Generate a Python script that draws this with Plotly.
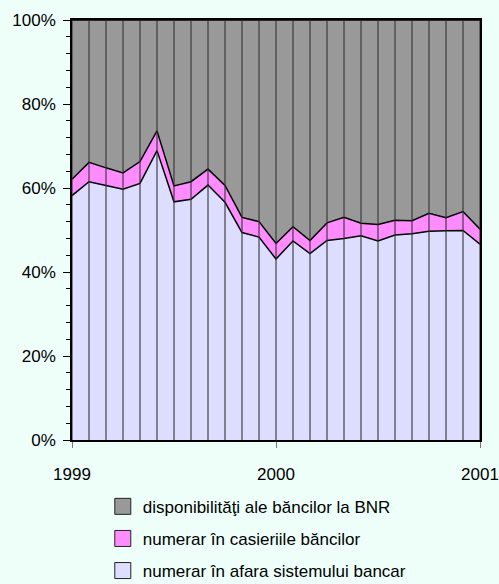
import plotly.graph_objects as go

months = list(range(25))  # Jan 1999 .. Jan 2001
tick_vals = [0, 12, 24]
tick_text = ["1999", "2000", "2001"]

names = ["disponibilităţi ale băncilor la BNR",
         "numerar în casieriile băncilor",
         "numerar în afara sistemului bancar"]

outside = [58.2, 61.5, 60.6, 59.7, 61.1, 68.9, 56.7, 57.3, 60.7, 56.6, 49.4, 48.3,
           43.1, 47.4, 44.4, 47.5, 48.0, 48.6, 47.4, 48.8, 49.1, 49.7, 49.8, 49.9, 46.6]
vaults = [3.9, 4.6, 4.2, 3.9, 5.2, 4.7, 3.8, 4.2, 3.8, 4.0, 3.6, 3.7,
          3.7, 3.4, 3.1, 4.2, 5.0, 3.0, 3.9, 3.5, 3.1, 4.3, 3.1, 4.5, 3.6]
bnr = [round(100 - a - b, 1) for a, b in zip(outside, vaults)]

colors = ["#999999", "#FF8CFF", "#DDDDFF"]
bg = "#EEFFFA"

fig = go.Figure()
series = [(outside, colors[2]), (vaults, colors[1]), (bnr, colors[0])]
for vals, col in series:
    fig.add_trace(go.Scatter(x=months, y=vals, mode="lines", stackgroup="s",
                             line=dict(color="black", width=1.5), fillcolor=col,
                             showlegend=False, hoverinfo="skip"))

# vertical drop lines at each monthly observation
vx, vy = [], []
for m in months:
    vx += [m, m, None]
    vy += [0, 100, None]
fig.add_trace(go.Scatter(x=vx, y=vy, mode="lines", line=dict(color="#333333", width=1.1),
                         showlegend=False, hoverinfo="skip"))

for i, (nm, col) in enumerate(zip(names, colors)):
    fig.add_trace(go.Scatter(x=[None], y=[None], mode="markers", name=nm,
                             legendgroup=str(i),
                             marker=dict(symbol="square", size=16, color=col,
                                         line=dict(color="#222222", width=1))))

fig.update_layout(
    width=499, height=584,
    margin=dict(l=72, r=19, t=20, b=144, autoexpand=False),
    paper_bgcolor=bg, plot_bgcolor=bg,
    font=dict(family="Liberation Sans, Arial, sans-serif", size=17, color="black"),
    showlegend=True,
    legend=dict(xref="container", yref="container", x=0.206, y=0.163,
                xanchor="left", yanchor="top",
                traceorder="grouped", tracegroupgap=7,
                bgcolor="rgba(0,0,0,0)", font=dict(size=17)),
)
fig.update_xaxes(range=[0, 24], tickvals=tick_vals, ticktext=tick_text,
                 ticks="outside", ticklen=6, tickcolor="#777777", ticklabelstandoff=12,
                 showline=True, linecolor="black", linewidth=1.5, mirror=True,
                 showgrid=False, automargin=False,
                 layer="above traces", zeroline=False, fixedrange=True)
fig.update_yaxes(range=[0, 100], dtick=20, ticksuffix="%",
                 ticks="outside", ticklen=7, tickcolor="black", ticklabelstandoff=4,
                 minor=dict(dtick=4, ticks="outside", ticklen=4, tickcolor="black",
                            showgrid=False),
                 showline=True, linecolor="black", linewidth=1.5, mirror=True,
                 showgrid=False, zeroline=False, automargin=False, fixedrange=True)

fig.write_html("out.html", config={"displayModeBar": False},
               post_script="document.body.style.margin='0';document.body.style.overflow='hidden';")
